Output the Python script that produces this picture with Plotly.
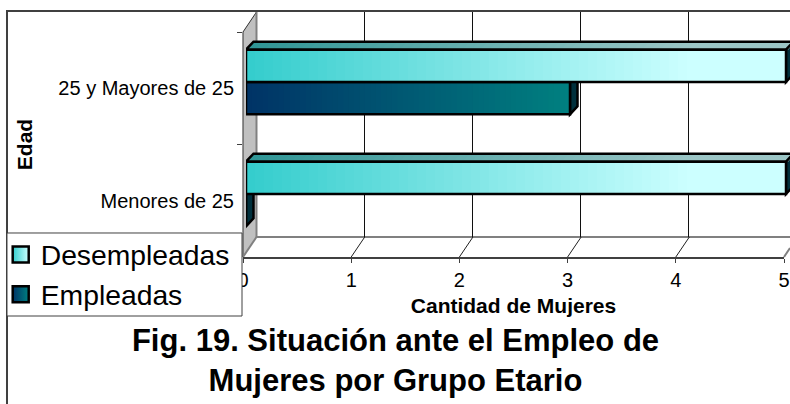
import plotly.graph_objects as go

# Data
categories = ["Menores de 25", "25 y Mayores de 25"]
empleadas = [0, 3]
desempleadas = [5, 5]
x_ticks = [0, 1, 2, 3, 4, 5]

W, H = 790, 404
PX_UNIT = 108.0
CAT_PX = 112.0
SEGMENTS = 60
BAR_W = 0.289
OUTLINE = 2.5
DEPTH_X, DEPTH_Y = 7.5 / PX_UNIT, 8.0 / CAT_PX


def hex_rgb(c):
    return tuple(int(c[i:i + 2], 16) for i in (1, 3, 5))


def ramp(t, c0, c1, end=1.0):
    t = min(t / end, 1.0)
    a, b = hex_rgb(c0), hex_rgb(c1)
    return "rgb(%d,%d,%d)" % tuple(round(a[i] + (b[i] - a[i]) * t) for i in range(3))


def px(x):
    return x / W


def py(y):
    return 1 - y / H


fig = go.Figure()
shapes = []


def paper_poly(points, fill=None, line=None, lw=1, layer="below"):
    path = "M" + " L".join(f"{px(a):.5f},{py(b):.5f}" for a, b in points)
    if fill:
        path += " Z"
    shapes.append(dict(type="path", xref="paper", yref="paper", path=path, layer=layer,
                       fillcolor=fill or "rgba(0,0,0,0)",
                       line=dict(color=line or "rgba(0,0,0,0)", width=lw)))


# Side wall and floor of the 3D box
paper_poly([(243, 32), (256.5, 12), (256.5, 237), (243, 257)], fill="#C0C0C0")
paper_poly([(243, 257), (243, 32), (256.5, 12)], line="#303030", lw=1)
paper_poly([(256.5, 12), (256.5, 237), (790, 237)], line="#808080", lw=2)
paper_poly([(243, 257), (256.5, 237)], line="#808080", lw=2)
paper_poly([(784, 257), (790, 248)], line="#808080", lw=2)

# Chart frame
paper_poly([(7, 404), (7, 11), (790, 11)], line="#404040", lw=2, layer="above")

# Floor lines running from the front axis to the back wall
for v in x_ticks[1:-1]:
    shapes.append(dict(type="line", xref="x", yref="paper", layer="below",
                       x0=v, y0=py(257), x1=v + 13.5 / PX_UNIT, y1=py(237),
                       line=dict(color="#202020", width=1)))

# Invisible trace that gives the front-plane axes their categories
fig.add_trace(go.Scatter(x=desempleadas, y=categories, mode="none", showlegend=False,
                         hoverinfo="skip"))

# Back-wall grid
fig.add_trace(go.Scatter(x=x_ticks, y=[0] * len(x_ticks), xaxis="x2", yaxis="y2", mode="none",
                         showlegend=False, hoverinfo="skip"))


def add_series(values, name, offset, c0, c1, top0, top1, side, end, show_top):
    ypos = list(range(len(values)))
    for y, v in zip(ypos, values):
        y_low = y + offset
        y_high = y_low + BAR_W
        # Side face at the end of the bar
        shapes.append(dict(type="path", xref="x3", yref="y3", layer="between",
                           path=f"M{v},{y_low} L{v + DEPTH_X},{y_low + DEPTH_Y} "
                                f"L{v + DEPTH_X},{y_high + DEPTH_Y} L{v},{y_high} Z",
                           fillcolor=side, line=dict(color="#000000", width=OUTLINE)))
        if show_top:
            # Shaded top face, built from short overlapping slices
            for i in range(SEGMENTS):
                a, b = v * i / SEGMENTS, v * (i + 1) / SEGMENTS
                col = ramp((i + 0.5) / SEGMENTS, top0, top1, end)
                shapes.append(dict(type="path", xref="x3", yref="y3", layer="between",
                                   path=f"M{a},{y_high} L{a + DEPTH_X},{y_high + DEPTH_Y} "
                                        f"L{b + DEPTH_X + 0.02},{y_high + DEPTH_Y} L{b + 0.02},{y_high} Z",
                                   fillcolor=col, line=dict(width=0)))
            shapes.append(dict(type="path", xref="x3", yref="y3", layer="between",
                               path=f"M0,{y_high} L{DEPTH_X},{y_high + DEPTH_Y} "
                                    f"L{v + DEPTH_X},{y_high + DEPTH_Y} L{v},{y_high} Z",
                               fillcolor="rgba(0,0,0,0)", line=dict(color="#000000", width=OUTLINE)))
        # Gradient front face; each slice runs on to the bar's end and the next paints over it
        fig.add_trace(go.Bar(
            orientation="h", xaxis="x3", yaxis="y3", showlegend=False, hoverinfo="skip",
            y=[y] * SEGMENTS,
            x=[v * (1 - i / SEGMENTS) for i in range(SEGMENTS)],
            base=[v * i / SEGMENTS for i in range(SEGMENTS)],
            width=BAR_W, offset=offset,
            marker=dict(color=[ramp((i + 0.5) / SEGMENTS, c0, c1, end) for i in range(SEGMENTS)],
                        line=dict(width=0)),
        ))
    # Outline of the whole bar
    fig.add_trace(go.Bar(
        orientation="h", xaxis="x3", yaxis="y3", showlegend=False, name=name,
        y=ypos, x=values, width=BAR_W, offset=offset,
        marker=dict(color="rgba(0,0,0,0)", line=dict(color="#000000", width=OUTLINE)),
    ))


add_series(empleadas, "Empleadas", -BAR_W, "#003366", "#008080", "#003366", "#008080", "#00303C", 1.0, False)
add_series(desempleadas, "Desempleadas", 0.0, "#33CCCC", "#CCFFFF", "#2F9696", "#9CC6C6", "#00303C", 0.82, True)

# Legend panel
paper_poly([(7, 233), (242, 233), (242, 316), (7, 316)], fill="#FFFFFF", line="#404040", lw=1, layer="above")

for name, c0, c1 in [("Desempleadas", "#33CCCC", "#CCFFFF"), ("Empleadas", "#003366", "#008080")]:
    fig.add_trace(go.Scatter(
        x=[None], y=[None], mode="markers", name=name, legendgroup=name,
        marker=dict(symbol="square", size=16, color=c0,
                    gradient=dict(type="horizontal", color=c1),
                    line=dict(color="#000000", width=2.5)),
    ))

fig.update_layout(
    width=W, height=H, autosize=False,
    margin=dict(l=0, r=0, t=0, b=0, autoexpand=False),
    paper_bgcolor="#FFFFFF", plot_bgcolor="rgba(0,0,0,0)",
    font=dict(family="Liberation Sans, Arial, sans-serif", color="#000000", size=20),
    barmode="overlay",
    shapes=shapes,
    title=dict(
        text="<b>Fig. 19. Situación ante el Empleo de<br>Mujeres por Grupo Etario</b>",
        font=dict(size=31, color="#000000"),
        x=395.5 / W, xanchor="center", y=py(351), yanchor="top",
    ),
    legend=dict(
        x=px(0.7), xanchor="left", y=py(229.5), yanchor="top",
        bgcolor="rgba(0,0,0,0)", borderwidth=0,
        font=dict(size=28.3), tracegroupgap=5, traceorder="normal",
    ),
    xaxis=dict(
        domain=[px(243), px(784)], range=[0, 5], tickvals=x_ticks,
        showgrid=False, zeroline=False, showline=True, linecolor="#404040", linewidth=2,
        ticks="outside", ticklen=4, tickcolor="#404040", tickfont=dict(size=20),
        ticklabelstandoff=0,
        title=dict(text="<b>Cantidad de Mujeres</b>", font=dict(size=21), standoff=8),
    ),
    yaxis=dict(
        domain=[py(257), py(32)], range=[-0.5, 1.5], type="category",
        categoryorder="array", categoryarray=categories, tickson="boundaries",
        showgrid=False, zeroline=False, showline=False,
        ticks="outside", ticklen=5, tickcolor="#404040", tickfont=dict(size=20),
        ticklabelstandoff=8,
        title=dict(text="<b>Edad</b>", font=dict(size=21), standoff=19),
    ),
    xaxis2=dict(
        domain=[px(256.5), 1], range=[0, (W - 256.5) / PX_UNIT], anchor="y2", dtick=1,
        showgrid=True, gridcolor="#101010", gridwidth=1, zeroline=False,
        showticklabels=False, ticks="", showline=False,
    ),
    yaxis2=dict(
        domain=[py(237), py(12)], range=[0, 1], anchor="x2",
        showgrid=False, zeroline=False, showticklabels=False, ticks="", showline=False,
    ),
    xaxis3=dict(
        domain=[px(246), 1], range=[0, (W - 246) / PX_UNIT], anchor="y3", visible=False,
    ),
    yaxis3=dict(
        domain=[py(250), py(26)], range=[-0.5, 1.5], anchor="x3", visible=False,
    ),
)

fig.write_html("out.html", config=dict(displayModeBar=False))
